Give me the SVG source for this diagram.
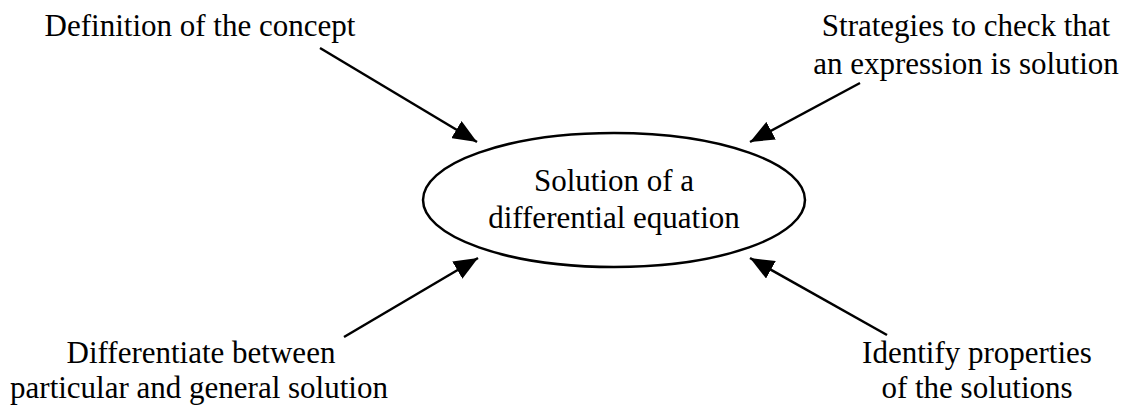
<svg xmlns="http://www.w3.org/2000/svg" width="1134" height="408" viewBox="0 0 1134 408">
<style>
text{font-family:"Liberation Serif","Times New Roman",serif;font-size:31px;fill:#000;text-anchor:middle}
.c{stroke:#000;stroke-width:2.5;fill:none}
</style>
<defs>
<marker id="a" viewBox="0 0 24 20" refX="24" refY="10" markerWidth="24" markerHeight="20" markerUnits="userSpaceOnUse" orient="auto">
<path d="M0,0 L24,10 L0,20 z" fill="#000"/>
</marker>
</defs>
<rect width="1134" height="408" fill="#fff"/>
<g id="center">
<ellipse cx="614" cy="200" rx="191" ry="67" fill="#fff" stroke="#000" stroke-width="2.5"/>
<text x="614" y="191">Solution of a</text>
<text x="614" y="228">differential equation</text>
</g>
<g id="n1"><text x="200" y="36">Definition of the concept</text></g>
<g id="n2"><text x="966" y="36">Strategies to check that</text><text x="966" y="74">an expression is solution</text></g>
<g id="n3"><text x="201" y="363">Differentiate between</text><text x="199" y="398">particular and general solution</text></g>
<g id="n4"><text x="977" y="363">Identify properties</text><text x="977" y="398">of the solutions</text></g>
<g id="connectors">
<line class="c" x1="320" y1="48" x2="477" y2="142" marker-end="url(#a)"/>
<line class="c" x1="860" y1="83" x2="750" y2="142" marker-end="url(#a)"/>
<line class="c" x1="344" y1="337" x2="478" y2="258" marker-end="url(#a)"/>
<line class="c" x1="887" y1="335" x2="750" y2="258" marker-end="url(#a)"/>
</g>
</svg>
